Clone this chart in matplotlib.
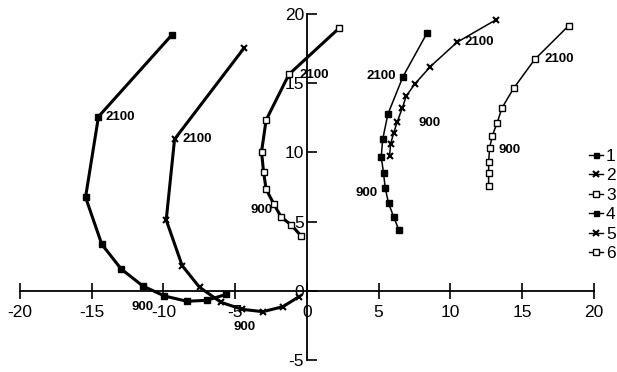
import numpy as np
import matplotlib
matplotlib.use("Agg")
import matplotlib.pyplot as plt

plt.rcParams['font.family'] = ['Liberation Sans', 'DejaVu Sans']
plt.rcParams['axes.unicode_minus'] = False

# trajectories (x, y)
x1 = [-9.41, -14.52, -15.42, -14.29, -12.94, -11.43, -9.92, -8.36, -6.97, -5.62]
y1 = [18.46, 12.57, 6.76, 3.37, 1.59, 0.36, -0.36, -0.74, -0.67, -0.24]
x2 = [-4.39, -9.22, -9.80, -8.69, -7.48, -5.97, -4.51, -3.07, -1.67, -0.56]
y2 = [17.50, 10.94, 5.12, 1.83, 0.27, -0.82, -1.32, -1.49, -1.13, -0.41]
x3 = [2.23, -1.25, -2.84, -3.16, -3.02, -2.84, -2.30, -1.79, -1.09, -0.40]
y3 = [18.94, 15.62, 12.33, 10.04, 8.60, 7.33, 6.27, 5.33, 4.76, 3.97]
x4 = [8.38, 6.69, 5.64, 5.28, 5.18, 5.34, 5.46, 5.69, 6.04, 6.41]
y4 = [18.62, 15.45, 12.74, 10.94, 9.68, 8.49, 7.40, 6.32, 5.36, 4.40]
x5 = [13.15, 10.45, 8.59, 7.50, 6.92, 6.64, 6.29, 6.04, 5.83, 5.76]
y5 = [19.54, 17.93, 16.17, 14.90, 14.06, 13.17, 12.20, 11.37, 10.60, 9.73]
x6 = [18.24, 15.87, 14.40, 13.59, 13.24, 12.91, 12.73, 12.66, 12.66, 12.66]
y6 = [19.13, 16.70, 14.61, 13.20, 12.09, 11.18, 10.29, 9.32, 8.49, 7.59]

series_names = ['1', '2', '3', '4', '5', '6']

# time annotations: (text, x, y, ha)
notes = [
    ('2100', -14.0, 12.57, 'left'), ('900', -11.43, -1.13, 'center'),
    ('2100', -8.69, 10.94, 'left'), ('900', -4.36, -2.57, 'center'),
    ('2100', -0.51, 15.57, 'left'), ('900', -2.42, 5.84, 'right'),
    ('2100', 6.18, 15.47, 'right'), ('900', 4.95, 7.04, 'right'),
    ('2100', 10.99, 17.93, 'left'), ('900', 7.8, 12.09, 'left'),
    ('2100', 16.56, 16.70, 'left'), ('900', 13.38, 10.17, 'left'),
]

fig = plt.figure(figsize=(6.17, 3.72), dpi=100)
ax = fig.add_axes([0.0321, 0.0313, 0.9306, 0.9321])

styles = [
    dict(marker='s', mfc='k', ms=4.5, lw=2.2),
    dict(marker='x', ms=5, mew=1.5, lw=2.2),
    dict(marker='s', mfc='white', ms=5, mew=1, lw=2.2),
    dict(marker='s', mfc='k', ms=4.5, lw=1.1),
    dict(marker='x', ms=5, mew=1.5, lw=1.1),
    dict(marker='s', mfc='white', ms=5, mew=1, lw=1.1),
]
data = [(x1, y1), (x2, y2), (x3, y3), (x4, y4), (x5, y5), (x6, y6)]
for (xs, ys), st, name in zip(data, styles, series_names):
    ax.plot(xs, ys, color='k', mec='k', label=name, **st)

for txt, tx, ty, ha in notes:
    ax.text(tx, ty, txt, ha=ha, va='center', fontsize=9.5, fontweight='bold')

ax.set_xlim(-20, 20)
ax.set_ylim(-5, 20)
ax.spines['left'].set_position('zero')
ax.spines['bottom'].set_position('zero')
ax.spines['top'].set_visible(False)
ax.spines['right'].set_visible(False)
for s in ('left', 'bottom'):
    ax.spines[s].set_linewidth(1.3)
ax.set_xticks(np.arange(-20, 21, 5))
ax.set_yticks(np.arange(-5, 21, 5))
ax.tick_params(axis='x', direction='inout', length=12, width=1.2, labelsize=12.5, pad=4)
ax.tick_params(axis='y', direction='in', length=7, width=1.2, labelsize=12.5, pad=2)

leg = ax.legend(loc='upper left', bbox_to_anchor=(580 / 617, 1 - 140 / 372),
                bbox_transform=fig.transFigure, frameon=False, fontsize=12.5,
                handlelength=0.8, handletextpad=0.2, labelspacing=0.25,
                borderpad=0, markerscale=0.8)
for ln in leg.get_lines():
    ln.set_linewidth(1.0)

fig.savefig('out.png', dpi=100)
